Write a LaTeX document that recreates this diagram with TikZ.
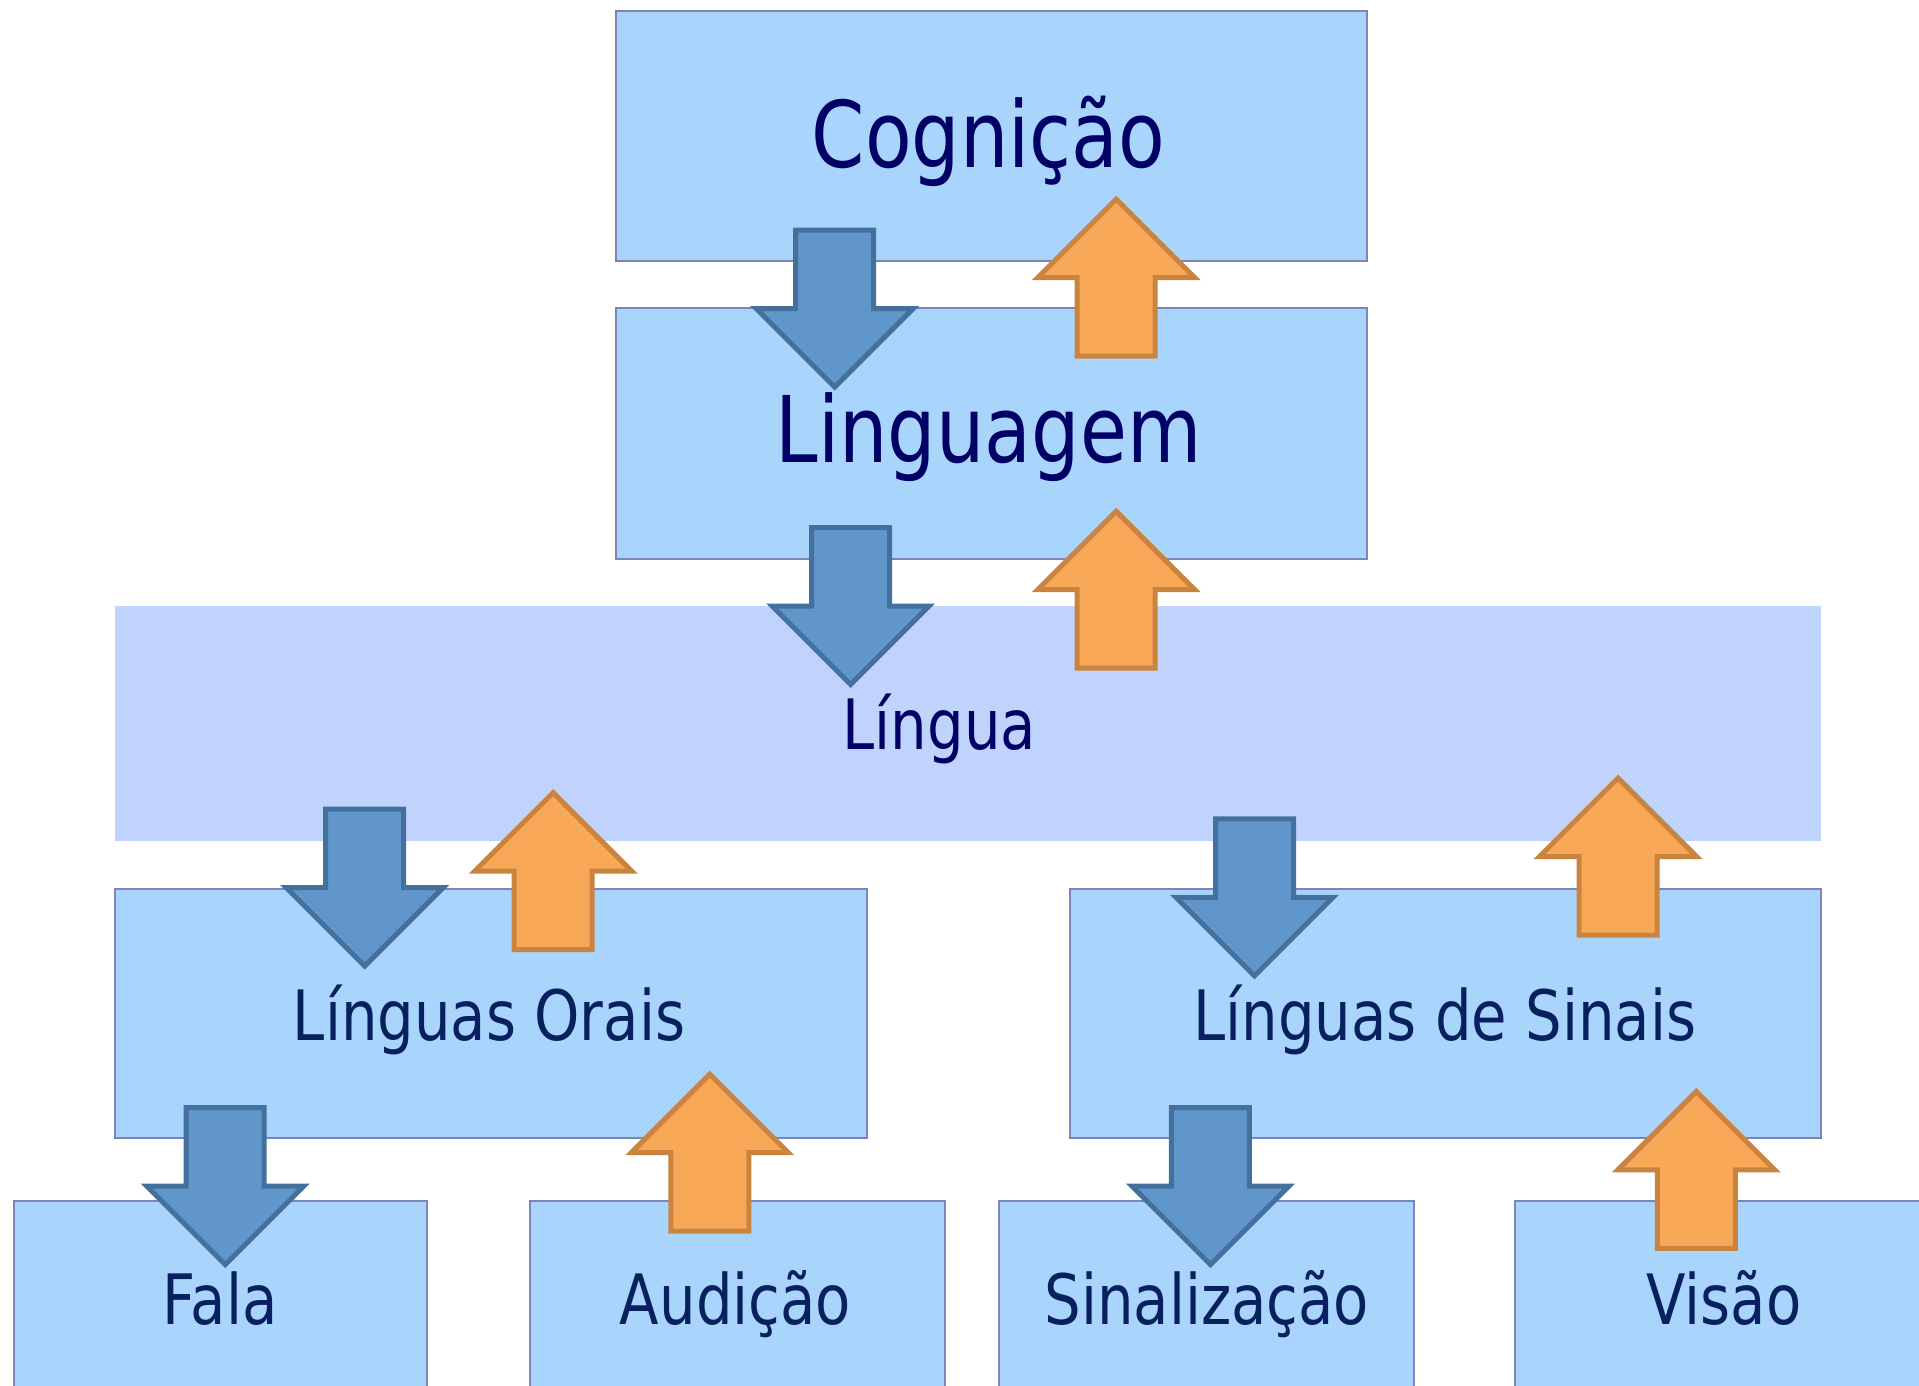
\documentclass[tikz,border=0pt]{standalone}
\usepackage{fontspec}
\setmainfont{DejaVu Sans}[FakeStretch=0.83]
\definecolor{boxfill}{RGB}{169,213,253}
\definecolor{boxline}{RGB}{125,132,186}
\definecolor{linfill}{RGB}{192,211,253}
\definecolor{txtA}{RGB}{0,0,102}
\definecolor{txtB}{RGB}{8,32,96}
\definecolor{blufill}{RGB}{97,150,202}
\definecolor{bluline}{RGB}{68,112,158}
\definecolor{orafill}{RGB}{248,168,87}
\definecolor{oraline}{RGB}{201,132,64}
\tikzset{
  box/.style={rectangle, fill=boxfill, draw=boxline, line width=2pt, inner sep=0pt},
  lbox/.style={rectangle, fill=linfill, inner sep=0pt},
  bigtxt/.style={anchor=base, inner sep=0pt, text=txtA, font=\fontsize{92}{110}\selectfont},
  midtxt/.style={anchor=base, inner sep=0pt, text=txtA, font=\fontsize{69.5}{83}\selectfont},
  lowtxt/.style={anchor=base, inner sep=0pt, text=txtB, font=\fontsize{69.5}{83}\selectfont},
  bluearr/.style={fill=blufill, draw=bluline, line width=5pt, line join=miter},
  orangearr/.style={fill=orafill, draw=oraline, line width=5pt, line join=miter},
  dnarrow/.pic={\path[bluearr] (-39,0) -- (39,0) -- (39,78.5) -- (78.5,78.5) -- (0,157) -- (-78.5,78.5) -- (-39,78.5) -- cycle;},
  uparrow/.pic={\path[orangearr] (-39,0) -- (39,0) -- (39,-78.5) -- (78.5,-78.5) -- (0,-157) -- (-78.5,-78.5) -- (-39,-78.5) -- cycle;}
}
\begin{document}
\begin{tikzpicture}[x=1pt, y=-1pt]
\useasboundingbox (0,0) rectangle (1919,1385);
\clip (0,0) rectangle (1919,1385);
% boxes
\node[box, minimum width=751.5pt, minimum height=249.7pt] (cog) at (991.4,135.9) {};
\node[box, minimum width=751.5pt, minimum height=250.9pt] (ling) at (991.4,433.9) {};
\node[lbox, minimum width=1706pt, minimum height=235pt] (lingua) at (968,723.3) {};
\node[box, minimum width=751.5pt, minimum height=249.7pt] (orais) at (490.8,1013.4) {};
\node[box, minimum width=751.5pt, minimum height=249.7pt] (sinais) at (1445.4,1013.4) {};
\node[box, minimum width=413.6pt, minimum height=220pt] (fala) at (220.3,1310.6) {};
\node[box, minimum width=414.8pt, minimum height=220pt] (aud) at (737.4,1310.6) {};
\node[box, minimum width=414.9pt, minimum height=220pt] (sinz) at (1206.2,1310.6) {};
\node[box, minimum width=415pt, minimum height=220pt] (vis) at (1722.5,1310.6) {};
% texts
\node[bigtxt] (tcog) at (988.5,167.7) {Cognição};
\node[bigtxt] (tling) at (988.5,462.6) {Linguagem};
\node[midtxt] (tlingua) at (939.3,749) {Língua};
\node[lowtxt] (torais) at (489,1040.3) {Línguas Orais};
\node[lowtxt] (tsinais) at (1444.8,1040.3) {Línguas de Sinais};
\node[lowtxt] (tfala) at (220.3,1324) {Fala};
\node[lowtxt] (taud) at (735.5,1324) {Audição};
\node[lowtxt] (tsinz) at (1206.7,1324) {Sinalização};
\node[lowtxt] (tvis) at (1723.8,1324) {Visão};
% arrows
\pic at (834.7,230) {dnarrow};
\pic at (1116.2,356.1) {uparrow};
\pic at (850.6,527.5) {dnarrow};
\pic at (1116.2,668.2) {uparrow};
\pic at (364.7,809) {dnarrow};
\pic at (553.2,949.7) {uparrow};
\pic at (1254.5,818.8) {dnarrow};
\pic at (1618,935) {uparrow};
\pic at (225.2,1107.6) {dnarrow};
\pic at (709.8,1231.2) {uparrow};
\pic at (1210.4,1107.6) {dnarrow};
\pic at (1696.3,1248.4) {uparrow};
\end{tikzpicture}
\end{document}
